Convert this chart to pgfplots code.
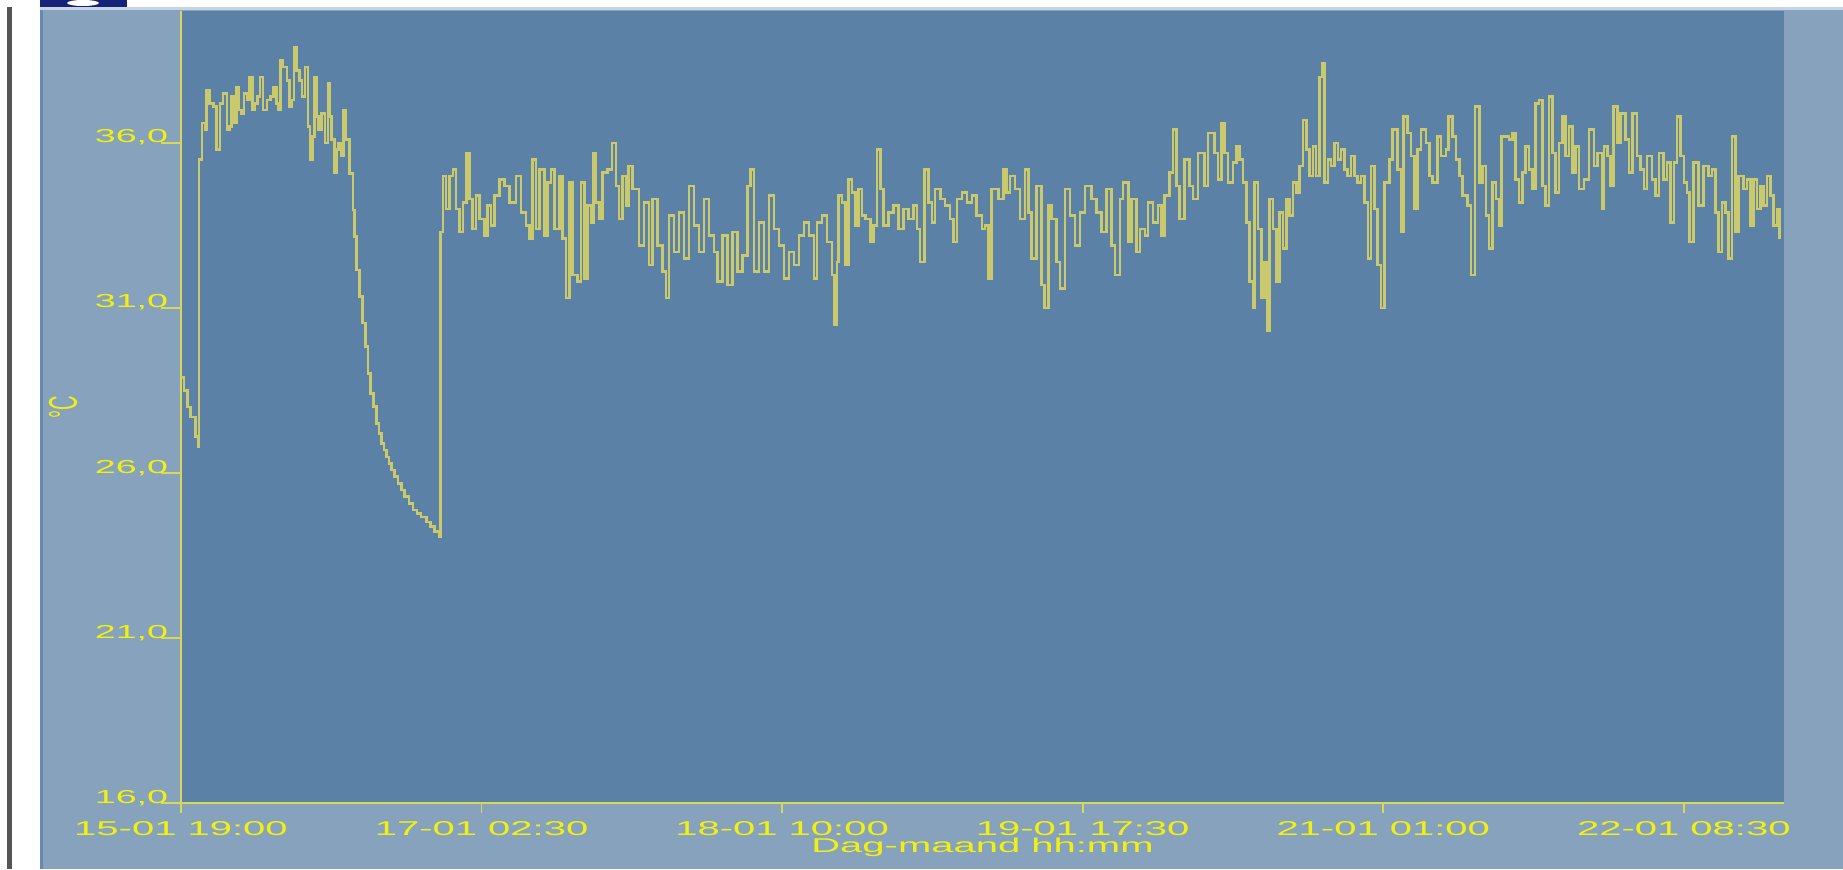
\documentclass[border=0pt]{standalone}
\usepackage{fontspec}
\setmainfont{Liberation Sans}[FakeStretch=2.0]
\newfontfamily\plainfont{Liberation Sans}
\usepackage{graphicx}
\usepackage{pgfplots}
\pgfplotsset{compat=1.18}
\definecolor{plotbg}{RGB}{91,129,166}
\definecolor{panel}{RGB}{135,162,188}
\definecolor{paneledge}{RGB}{105,138,176}
\definecolor{topline}{RGB}{200,211,227}
\definecolor{txtyel}{RGB}{240,240,20}
\definecolor{axisyel}{RGB}{215,215,90}
\definecolor{datayel}{RGB}{202,202,108}
\definecolor{navy}{RGB}{20,35,120}
\definecolor{darkline}{RGB}{85,85,85}
\begin{document}
\begin{tikzpicture}[x=0.5pt,y=0.5pt]
\fill[white] (0,0) rectangle (1843,869);
\fill[darkline] (7,0) rectangle (12,862);
\fill[panel] (40,0) rectangle (1843,859);
\fill[paneledge] (40,0) rectangle (43,859);
\fill[topline] (40,859) rectangle (1843,862);
\fill[navy] (40,862) rectangle (127,869);
\fill[white] (83,866) ellipse (16 and 3);
\begin{axis}[
  at={(90.5pt,33pt)}, anchor=south west,
  scale only axis, width=801.5pt, height=396pt,
  xmin=0, xmax=168, ymin=16, ymax=40,
  axis lines=left,
  axis line style={draw=axisyel, line width=0.9pt, -},
  axis background/.style={fill=plotbg},
  tick align=outside,
  xtick={0,31.5,63,94.5,126,157.5},
  xticklabels={15-01 19:00,17-01 02:30,18-01 10:00,19-01 17:30,21-01 01:00,22-01 08:30},
  ytick={16,21,26,31,36},
  yticklabels={{16,0},{21,0},{26,0},{31,0},{36,0}},
  minor tick num=0,
  x tick style={draw=axisyel, line width=0.9pt, /pgfplots/major tick length=5pt},
  y tick style={draw=axisyel, line width=0.9pt, /pgfplots/major tick length=10pt},
  yticklabel style={font=\fontsize{9.4}{11}\selectfont, text=txtyel, anchor=base east, inner sep=0pt, xshift=-2pt},
  xticklabel style={font=\fontsize{10}{12}\selectfont, text=txtyel, anchor=base, inner sep=0pt, yshift=-12pt},
  xlabel={Dag-maand hh:mm},
  xlabel style={font=\fontsize{10}{12}\selectfont, text=txtyel, at={(axis description cs:0.5,0)}, anchor=base, inner sep=0pt, yshift=-24.5pt},
  ylabel={\plainfont\scalebox{1}[2]{°C}},
  ylabel style={font=\fontsize{10}{12}\selectfont, text=txtyel, at={([xshift=-59pt]axis description cs:0,0.5)}, anchor=center},
]
\addplot[const plot, color=datayel, line width=1.3pt] coordinates {
(0,28.9) (0.3,28.5) (0.7,28.0) (1.0,27.7) (1.5,27.1) (1.8,26.8) (1.88,35.5)
(2.2,36.6) (2.5,36.4) (2.7,37.6) (3.0,37.2) (3.4,37.1) (3.7,35.8) (4.1,37.2)
(4.4,37.5) (4.8,36.4) (5.1,36.5) (5.3,37.4) (5.5,36.6) (5.8,37.7) (6.0,37.0)
(6.35,36.9) (6.6,37.5) (6.9,37.3) (7.2,38.0) (7.5,37.0) (7.7,37.2) (8.0,37.4)
(8.3,38.0) (8.6,37.0) (9.0,37.3) (9.4,37.4) (9.7,37.7) (10.0,37.2) (10.2,37.0)
(10.4,38.5) (10.7,38.3) (11.1,37.9) (11.4,37.1) (11.6,37.3) (11.85,38.9) (12.1,38.2)
(12.45,37.9) (12.7,37.4) (13.0,38.3) (13.3,36.5) (13.5,35.5) (13.8,36.2) (14.0,38.0)
(14.2,36.8) (14.4,36.4) (14.7,36.9) (15.1,36.0) (15.4,37.8) (15.6,36.8) (15.8,36.1)
(16.1,35.1) (16.3,35.8) (16.5,36.0) (16.8,35.6) (17.0,37.0) (17.3,36.1)
(17.68,35.08) (18.03,33.97) (18.2,33.16) (18.37,32.15) (18.72,31.34) (19.0,30.54) (19.35,29.83)
(19.6,29.02) (19.87,28.41) (20.19,28.01) (20.47,27.50) (20.75,27.20) (20.99,26.90) (21.27,26.70)
(21.51,26.49) (21.79,26.29) (22.04,26.09) (22.38,25.89) (22.73,25.69) (23.08,25.48) (23.43,25.28)
(23.88,25.08) (24.30,24.88) (24.72,24.78) (25.17,24.67) (25.70,24.52) (26.12,24.37) (26.57,24.22)
(27.02,24.07) (27.2,33.3)
(27.44,35.0) (27.79,34.0) (28.14,35.0) (28.49,35.2) (28.84,34.0) (29.19,33.3) (29.54,34.2)
(29.89,35.7) (30.23,34.3) (30.58,33.4) (30.93,34.4) (31.28,33.7) (31.80,33.2) (32.15,34.1)
(32.50,33.5) (32.85,34.4) (33.37,34.9) (33.90,34.7) (34.42,34.2) (35.12,35.0) (35.64,33.9)
(36.16,33.5) (36.51,33.1) (36.86,35.5) (37.21,33.4) (37.56,35.2) (38.08,33.2) (38.43,34.8)
(38.78,35.2) (39.13,33.4) (39.65,35.0) (40.0,33.1) (40.35,31.3) (40.69,34.8) (41.04,32.0)
(41.57,31.8) (41.91,34.8) (42.26,31.9) (42.61,34.1) (42.96,33.6) (43.2,35.7) (43.48,34.2)
(43.83,33.7) (44.18,35.1) (44.70,35.2) (45.16,36.0) (45.58,34.7) (45.92,33.7) (46.27,35.0)
(46.62,34.1) (46.87,35.3) (47.32,34.6) (48.02,32.9) (48.54,34.2) (49.06,32.3) (49.41,34.3)
(49.93,32.9) (50.46,32.1) (50.81,31.3) (51.15,33.8) (51.68,32.7) (52.20,33.9) (52.72,32.5)
(53.25,34.7) (53.77,33.5) (54.29,32.7) (54.82,34.3) (55.34,33.2) (55.86,32.7) (56.21,31.8)
(56.73,33.2) (57.26,31.7) (57.78,33.3) (58.30,32.1) (58.83,32.6) (59.35,34.7) (59.70,35.2)
(60.05,32.1) (60.57,33.6) (61.09,32.1) (61.62,34.4) (62.14,33.4) (62.66,32.9) (63.18,31.9)
(63.71,32.7) (64.23,32.3) (64.75,33.2) (65.28,33.6) (65.80,33.2) (66.32,31.9) (66.67,33.6)
(67.19,33.8) (67.72,33.0)
(68.23,32.0) (68.51,30.5) (68.76,32.4) (68.93,34.4) (69.28,34.2) (69.63,32.3) (69.98,34.9)
(70.33,34.5) (70.68,33.5) (71.02,34.6) (71.37,33.8) (71.72,33.7) (72.24,33.0) (72.59,33.5)
(72.94,35.8) (73.29,34.6) (73.64,33.5) (74.16,33.9) (74.68,34.1) (75.21,33.4) (75.73,34.0)
(76.25,33.7) (76.78,34.1) (77.13,33.4) (77.47,32.4) (77.93,35.2) (78.35,34.2) (78.69,33.6)
(79.04,34.6) (79.57,34.3) (80.09,34.1) (80.61,33.7) (80.96,33.0) (81.31,34.3) (81.83,34.5)
(82.36,34.2) (82.88,34.4) (83.40,33.8) (83.93,33.4) (84.27,33.5) (84.62,31.9) (84.97,34.6)
(85.67,34.3) (86.19,35.2) (86.54,34.5) (86.89,35.0) (87.41,34.6) (87.93,33.7) (88.46,35.2)
(88.81,33.9) (89.15,32.5) (89.68,34.7) (90.20,31.7) (90.48,31.0) (90.90,34.1) (91.25,33.7)
(91.77,32.4) (92.12,31.6) (92.64,34.6) (93.16,33.8) (93.69,32.9) (94.21,33.9) (94.73,34.7)
(95.43,34.3) (95.95,33.9) (96.48,33.3) (97.00,34.6) (97.52,32.9) (97.87,32.0) (98.40,34.3)
(98.74,34.8) (99.27,33.0) (99.62,34.3) (100.14,32.7) (100.49,33.4) (101.01,33.2) (101.36,34.2)
(101.88,33.6) (102.40,34.1) (102.75,33.2) (103.10,34.4) (103.62,35.1) (103.97,36.4) (104.32,34.7)
(104.67,33.7) (105.19,35.5) (105.72,34.7) (106.06,34.3) (106.59,35.7) (107.29,34.7) (107.64,36.3)
(108.33,35.7)
(108.69,34.9) (109.03,36.6) (109.38,35.7) (109.73,34.8) (110.26,35.4) (110.60,35.9) (110.95,35.5)
(111.30,34.8) (111.65,33.6) (112.0,31.8) (112.35,31.0) (112.52,34.8) (112.87,33.4) (113.22,31.3)
(113.57,32.4) (113.85,30.3) (114.09,34.3) (114.44,33.4) (114.79,31.8) (115.14,33.9) (115.49,32.8)
(115.83,34.3) (116.18,33.8) (116.53,34.8) (116.88,34.5) (117.23,35.3) (117.58,36.7) (117.93,35.8)
(118.27,35.0) (118.62,35.9) (118.97,35.0) (119.32,38.0) (119.56,38.4) (119.84,34.8) (120.19,35.5)
(120.54,35.3) (120.89,36.0) (121.24,35.5) (121.59,35.8) (121.94,35.2) (122.28,35.0) (122.63,35.6)
(122.98,35.0) (123.33,34.8) (123.68,35.0) (124.03,34.2) (124.38,32.5) (124.73,35.3) (125.07,34.0)
(125.42,32.3) (125.77,31.0) (126.12,34.8) (126.64,35.5) (126.99,36.4) (127.51,35.2) (127.86,33.3)
(128.14,36.8) (128.56,36.3) (128.91,35.6) (129.26,34.0) (129.61,35.8) (129.95,36.4) (130.48,36.0)
(130.83,35.0) (131.18,34.8) (131.70,36.2) (132.05,35.6) (132.57,35.8) (132.81,36.8) (133.27,36.2)
(133.62,35.5) (133.96,35.0) (134.31,34.4) (134.84,34.1) (135.18,32.0) (135.60,37.1) (136.06,34.8)
(136.41,35.3) (136.75,33.8) (137.10,32.8) (137.45,34.8) (137.80,34.3) (138.15,33.5) (138.40,36.2)
(139.19,36.1) (139.54,36.3) (139.89,34.9) (140.24,34.2) (140.59,35.1) (140.93,35.9) (141.28,35.2)
(141.63,34.6) (141.98,37.2) (142.33,37.3) (142.68,34.7) (143.03,34.1) (143.37,37.4) (143.72,35.7)
(144.07,34.5) (144.42,36.0) (144.77,36.8) (145.12,35.6) (145.47,36.5) (145.82,35.1) (146.16,35.9)
(146.51,34.6) (147.04,34.9) (147.56,36.4) (148.08,35.3) (148.43,35.7) (148.95,34.0) (149.13,35.9)
(149.48,35.6) (149.82,34.7) (150.10,37.1) (150.52,36.0) (150.87,36.9) (151.39,36.1) (151.74,35.1)
(152.09,36.9) (152.61,35.6) (152.96,35.2) (153.31,34.6) (153.66,35.6) (154.18,34.9) (154.53,34.4)
(154.88,35.7) (155.40,34.9) (155.75,35.4) (156.10,33.6) (156.45,35.4) (156.80,36.8) (157.15,35.6)
(157.50,34.8) (157.84,34.5) (158.12,33.0) (158.54,35.4) (159.06,34.1) (159.59,35.3) (160.11,35.0)
(160.46,35.2) (160.81,33.9) (161.16,32.7) (161.51,34.2) (161.85,33.9) (162.20,32.5) (162.55,36.2)
(162.90,33.3) (163.25,35.0) (163.77,34.6) (164.12,34.9) (164.47,33.5) (164.82,34.9) (165.17,34.0)
(165.52,34.7) (165.86,34.1) (166.21,35.0) (166.56,34.4) (166.91,33.5) (167.26,34.0) (167.54,33.1)
};
\end{axis}
\end{tikzpicture}
\end{document}
